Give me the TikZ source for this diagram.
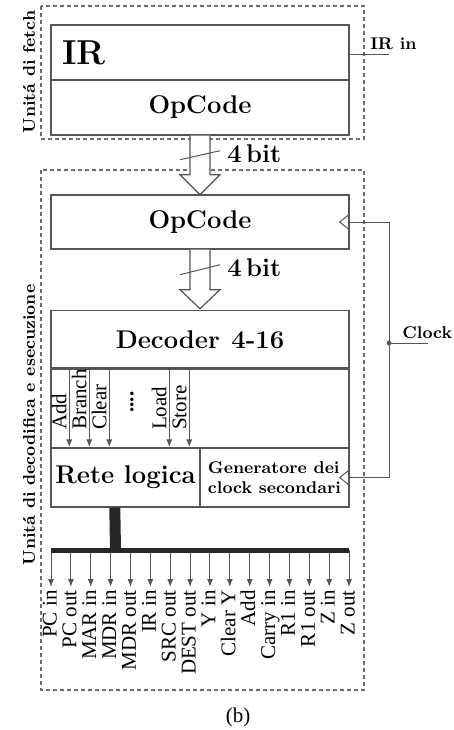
\documentclass[tikz,border=0pt]{standalone}
\usepackage{fontspec}
\newfontfamily\sigfont{Liberation Serif}
\usepackage{tikz}
\usetikzlibrary{
  arrows.meta,
  positioning,
  calc
}
\definecolor{linegray}{RGB}{85,85,85}
\definecolor{dashgray}{RGB}{110,110,110}

\begin{document}
\begin{tikzpicture}[x=0.5pt, y=-0.5pt,
  every node/.style={font=\fontsize{12.8}{15}\selectfont\bfseries, inner sep=0pt},
  regbox/.style={draw=linegray, line width=0.7pt, minimum width=149pt},
  unitbox/.style={draw=dashgray, line width=0.6pt, dash pattern=on 2pt off 1.5pt},
  unitlbl/.style={font=\fontsize{8.5}{10}\selectfont\bfseries, rotate=90},
  wire/.style={draw=linegray, line width=0.5pt},
  sig/.style={wire, -{Latex[length=4pt, width=3pt]}},
  busarr/.style={draw=linegray, line width=0.6pt, fill=white},
  bitlbl/.style={font=\fontsize{12.8}{15}\selectfont\bfseries, anchor=west},
  smalllbl/.style={font=\fontsize{8.5}{10}\selectfont\bfseries},
  declbl/.style={font=\sigfont\fontsize{10.5}{12}\selectfont, rotate=90, anchor=base west},
  outlbl/.style={font=\sigfont\fontsize{10.5}{12}\selectfont, rotate=90, anchor=east,
    inner sep=1.5pt, text height=7pt, text depth=1.5pt},
]
  \useasboundingbox (0,0) rectangle (454,730);

  % Units
  \draw[unitbox] (41,6) rectangle (364,139);
  \draw[unitbox] (41,170) rectangle (364,690);
  \node[unitlbl] (ufetch) at (29,72) {Unitá di fetch};
  \node[unitlbl] (uexec) at (29,425) {Unitá di decodifica e esecuzione};

  % Nodes
  \node[regbox, minimum height=27.5pt, text width=138pt, inner xsep=5.5pt,
    align=left, font=\LARGE\bfseries] (ir) at (200,52.5) {IR};
  \node[regbox, minimum height=27.5pt] (op1) at (200,107.5) {OpCode};
  \node[regbox, minimum height=27pt] (op2) at (200,222) {OpCode};
  \node[regbox, minimum height=29.5pt] (dec) at (200,340) {Decoder\hspace{0.45em}4-16};
  \node[regbox, minimum height=40pt] (decout) at (200,408) {};
  \node[regbox, minimum width=74.5pt, minimum height=29.5pt] (rete) at (125.5,477.5) {Rete logica};
  \node[regbox, minimum width=74.5pt, minimum height=29.5pt, align=left,
    font=\fontsize{8.5}{10}\selectfont\bfseries] (gen) at (274.5,477.5) {Generatore dei\\clock secondari};

  % Buses from OpCode
  \draw[busarr] ($(op1.south)+(-10,0)$) -- ++(0,39) -- ++(-10,0) -- ++(20,20)
    -- ++(20,-20) -- ++(-10,0) -- ++(0,-39);
  \draw[wire] ($(op1.south)+(-20,24)$) -- ($(op1.south)+(20,15)$);
  \node[bitlbl] (bits1) at ($(op1.south)+(27,18)$) {4\,bit};
  \draw[busarr] ($(op2.south)+(-10,0)$) -- ++(0,40) -- ++(-10,0) -- ++(20,19)
    -- ++(20,-19) -- ++(-10,0) -- ++(0,-40);
  \draw[wire] ($(op2.south)+(-20,25)$) -- ($(op2.south)+(20,15)$);
  \node[bitlbl] (bits2) at ($(op2.south)+(27,18)$) {4\,bit};

  % IR in
  \coordinate (irin) at (389,54);
  \draw[wire] (ir.east |- irin) -- (irin);
  \node[smalllbl, anchor=south west] (irinlbl) at (370,50) {IR in};

  % Clock
  \coordinate (cj) at (389,343);
  \coordinate (clk) at (428,343);
  \draw[wire] (op2.east) -- (op2.east -| cj) -- (gen.east -| cj) -- (gen.east);
  \draw[wire] (cj) -- (clk);
  \fill[linegray] (cj) circle (1.2pt);
  \node[smalllbl, anchor=south west] (clklbl) at (402,339) {Clock};
  \draw[wire] ($(op2.east)+(0,-8)$) -- ++(-10,8) -- ++(10,8);
  \draw[wire] ($(gen.east)+(0,-8)$) -- ++(-10,8) -- ++(10,8);

  % Decoder outputs
  \foreach \dx/\lbl in {19/Add, 39/Branch, 59/Clear, 119/Load, 139/Store} {
    \draw[sig] ($(dec.south west)+(\dx,0)$) -- ($(rete.north west)+(\dx,0)$);
    \node[declbl] (d\lbl) at ($(rete.north west)+(\dx-3,-17)$) {\lbl};
  }
  \node[font=\sigfont\fontsize{10.5}{12}\selectfont\bfseries, rotate=90] (ddots) at (132,402) {....};

  % Control signals
  \coordinate (tap) at (115.5,550);
  \draw[draw=black!85, line width=5.5pt] ($(rete.south west)+(64.5,0)$) -- (tap);
  \foreach \lbl [count=\i from 0] in {PC in, PC out, MAR in, MDR in, MDR out, IR in,
      SRC out, DEST out, Y in, Clear Y, Add, Carry in, R1 in, R1 out, Z in, Z out} {
    \coordinate (b\i) at ({51+\i*19.87},550);
    \node[outlbl] (o\i) at ({51+\i*19.87},587) {\lbl};
    \draw[sig] (b\i) -- (o\i.east);
  }
  \draw[draw=black!85, line width=2.5pt] ($(b0)+(-0.3,0)$) -- ($(b15)+(0.3,0)$);

  \node[font=\sigfont\fontsize{10.5}{12}\selectfont] (cap) at (238,717) {(b)};
\end{tikzpicture}
\end{document}
